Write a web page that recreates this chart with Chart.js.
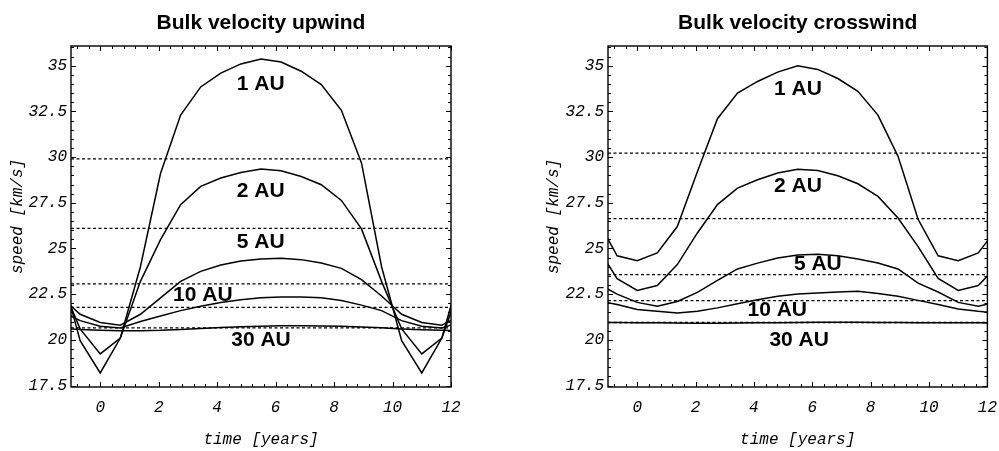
<!DOCTYPE html>
<html>
<head>
<meta charset="utf-8">
<script src="https://cdn.jsdelivr.net/npm/chart.js@4.4.1/dist/chart.umd.min.js"></script>
<style>
  html, body { margin: 0; background: #fff; overflow: hidden; }
  #wrap { position: relative; width: 999px; height: 451px; overflow: hidden; }
  #upwind { position: absolute; left: 0; top: 0; }
  #crosswind { position: absolute; left: 500px; top: 0; }
</style>
</head>
<body>
<div id="wrap">
  <canvas id="upwind" width="500" height="451"></canvas>
  <canvas id="crosswind" width="508" height="451"></canvas>
</div>
<script>
// sample times (years), shared by all curves
const times = [-1.375, -0.6875, 0, 0.6875, 1.375, 2.0625, 2.75, 3.4375, 4.125, 4.8125, 5.5,
               6.1875, 6.875, 7.5625, 8.25, 8.9375, 9.625, 10.3125, 11, 11.6875, 12.375];

// upwind speeds (km/s)
const up1AU  = [24.0, 19.95, 18.19, 20.1, 24.0, 29.1, 32.3, 33.84, 34.6, 35.1, 35.37, 35.2, 34.7, 33.97, 32.56, 29.68, 24.0, 19.95, 18.19, 20.1, 24.0];
const up2AU  = [23.2, 20.6, 19.23, 20.1, 23.2, 25.48, 27.4, 28.4, 28.86, 29.16, 29.35, 29.25, 28.94, 28.49, 27.63, 26.07, 23.2, 20.6, 19.23, 20.1, 23.2];
const up5AU  = [22.4, 21.4, 20.95, 20.8, 21.4, 22.3, 23.2, 23.75, 24.1, 24.32, 24.43, 24.46, 24.39, 24.2, 23.91, 23.3, 22.4, 21.4, 20.95, 20.8, 21.4];
const up10AU = [21.6, 21.05, 20.75, 20.65, 21.0, 21.3, 21.6, 21.84, 22.05, 22.2, 22.3, 22.35, 22.35, 22.3, 22.15, 21.9, 21.6, 21.05, 20.75, 20.65, 21.0];
const up30AU = [20.62, 20.56, 20.52, 20.5, 20.5, 20.52, 20.57, 20.62, 20.68, 20.72, 20.75, 20.77, 20.77, 20.76, 20.74, 20.7, 20.66, 20.6, 20.55, 20.52, 20.5];
const upLimits = [29.9, 26.1, 23.06, 21.78, 20.66];

// crosswind speeds (km/s)
const cr1AU  = [26.6, 24.6, 24.33, 24.76, 26.2, 29.2, 32.1, 33.5, 34.14, 34.65, 35.0, 34.8, 34.3, 33.6, 32.3, 30.04, 26.6, 24.6, 24.33, 24.76, 26.2];
const cr2AU  = [25.1, 23.35, 22.7, 22.97, 24.12, 25.85, 27.4, 28.3, 28.76, 29.13, 29.33, 29.27, 28.98, 28.54, 27.85, 26.67, 25.1, 23.36, 22.7, 22.97, 24.12];
const cr5AU  = [23.1, 22.5, 22.05, 21.84, 22.1, 22.6, 23.25, 23.88, 24.2, 24.48, 24.64, 24.69, 24.6, 24.43, 24.2, 23.88, 23.1, 22.62, 22.05, 21.84, 22.1];
const cr10AU = [22.16, 21.93, 21.66, 21.56, 21.47, 21.56, 21.75, 21.98, 22.2, 22.38, 22.51, 22.57, 22.62, 22.66, 22.53, 22.38, 22.16, 21.93, 21.69, 21.56, 21.47];
const cr30AU = [20.95, 20.95, 20.94, 20.93, 20.92, 20.91, 20.91, 20.92, 20.93, 20.94, 20.95, 20.96, 20.96, 20.96, 20.95, 20.95, 20.94, 20.94, 20.93, 20.93, 20.92];
const crLimits = [30.22, 26.63, 23.57, 22.15, 20.95];

// curve labels, placed in data coordinates
const curveNames = ['1 AU', '2 AU', '5 AU', '10 AU', '30 AU'];
const upLabelX = [5.49, 5.49, 5.49, 3.51, 5.5];
const upLabelY = [33.99, 28.13, 25.37, 22.46, 20.0];
const crLabelX = [5.51, 5.51, 6.19, 4.8, 5.55];
const crLabelY = [33.71, 28.43, 24.14, 21.61, 19.96];

const xMin = -1, xMax = 12, yMin = 17.42, yMax = 36.08;
const monoFont = {family: "'Liberation Mono', 'Courier New', monospace", size: 16, style: 'italic'};

// inward ticks on all four sides plus the frame, mathematica style
const frameTicks = {
    id: 'frameTicks',
    afterDatasetsDraw(chart) {
        const {ctx, chartArea: a, scales: {x, y}} = chart;
        ctx.save();
        ctx.strokeStyle = '#000';
        ctx.lineWidth = 1;
        ctx.beginPath();
        for (let i = Math.ceil(xMin / 0.4 - 1e-9); i * 0.4 <= xMax + 1e-9; i++) {
            const v = i * 0.4;
            const major = Math.abs(v / 2 - Math.round(v / 2)) < 1e-6;
            const len = major ? 5 : 3;
            const px = Math.round(x.getPixelForValue(v)) + 0.5;
            ctx.moveTo(px, a.bottom); ctx.lineTo(px, a.bottom - len);
            ctx.moveTo(px, a.top); ctx.lineTo(px, a.top + len);
        }
        for (let i = Math.ceil(yMin / 0.5 - 1e-9); i * 0.5 <= yMax + 1e-9; i++) {
            const v = i * 0.5;
            const major = Math.abs(v / 2.5 - Math.round(v / 2.5)) < 1e-6;
            const len = major ? 5 : 3;
            const py = Math.round(y.getPixelForValue(v)) + 0.5;
            ctx.moveTo(a.left, py); ctx.lineTo(a.left + len, py);
            ctx.moveTo(a.right, py); ctx.lineTo(a.right - len, py);
        }
        ctx.stroke();
        ctx.lineWidth = 1.4;
        ctx.strokeRect(a.left, a.top, a.width, a.height);
        ctx.restore();
    }
};

const curveLabels = {
    id: 'curveLabels',
    afterDatasetsDraw(chart, args, opts) {
        const {ctx, scales: {x, y}} = chart;
        ctx.save();
        ctx.fillStyle = '#000';
        ctx.font = "bold 21px 'Liberation Sans', Arial, sans-serif";
        ctx.textAlign = 'center';
        ctx.textBaseline = 'middle';
        opts.names.forEach((name, i) => {
            ctx.fillText(name, x.getPixelForValue(opts.xs[i]), y.getPixelForValue(opts.ys[i]));
        });
        ctx.restore();
    }
};

function makeChart(canvasId, {title, curves, limits, labelXs, labelYs, padLeft, padRight, axisWidth}) {
    const datasets = [];
    limits.forEach(v => {
        datasets.push({
            data: [{x: xMin, y: v}, {x: xMax, y: v}],
            borderColor: '#000',
            borderWidth: 1.3,
            borderDash: [3, 2.5],
            pointRadius: 0,
            clip: 0
        });
    });
    curves.forEach(vals => {
        datasets.push({
            data: times.map((t, i) => ({x: t, y: vals[i]})),
            borderColor: '#000',
            borderWidth: 1.5,
            pointRadius: 0,
            tension: 0,
            clip: 0
        });
    });

    return new Chart(document.getElementById(canvasId), {
        type: 'line',
        data: {datasets},
        plugins: [frameTicks, curveLabels],
        options: {
            responsive: false,
            animation: false,
            layout: {autoPadding: false, padding: {left: padLeft, right: padRight, top: 0, bottom: 0}},
            plugins: {
                legend: {display: false},
                tooltip: {enabled: false},
                title: {
                    display: true,
                    text: title,
                    fullSize: false,
                    color: '#000',
                    font: {family: "'Liberation Sans', Arial, sans-serif", size: 21, weight: 'bold'},
                    padding: {top: 10.5, bottom: 10.3}
                },
                curveLabels: {names: curveNames, xs: labelXs, ys: labelYs}
            },
            scales: {
                x: {
                    type: 'linear',
                    min: xMin,
                    max: xMax,
                    grid: {display: false, drawTicks: false},
                    border: {display: false},
                    ticks: {stepSize: 2, includeBounds: false, padding: 11, color: '#000', font: monoFont, maxRotation: 0},
                    title: {display: true, text: 'time [years]', color: '#000', font: monoFont, padding: {top: 0, bottom: 2}},
                    afterFit(scale) { scale.height = 64; }
                },
                y: {
                    type: 'linear',
                    min: yMin,
                    max: yMax,
                    grid: {display: false, drawTicks: false},
                    border: {display: false},
                    ticks: {stepSize: 2.5, includeBounds: false, padding: 4, color: '#000', font: monoFont},
                    title: {display: true, text: 'speed [km/s]', color: '#000', font: monoFont, padding: {top: 8, bottom: 0}},
                    afterFit(scale) { scale.width = axisWidth; }
                }
            }
        }
    });
}

makeChart('upwind', {
    title: 'Bulk velocity upwind',
    curves: [up1AU, up2AU, up5AU, up10AU, up30AU],
    limits: upLimits,
    labelXs: upLabelX,
    labelYs: upLabelY,
    padLeft: 0,
    padRight: 49,
    axisWidth: 71
});

makeChart('crosswind', {
    title: 'Bulk velocity crosswind',
    curves: [cr1AU, cr2AU, cr5AU, cr10AU, cr30AU],
    limits: crLimits,
    labelXs: crLabelX,
    labelYs: crLabelY,
    padLeft: 36,
    padRight: 12,
    axisWidth: 72
});
</script>
</body>
</html>
